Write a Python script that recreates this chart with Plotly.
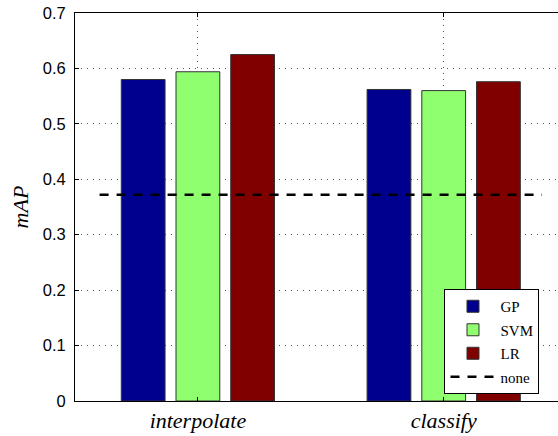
import plotly.graph_objects as go

categories = ["interpolate", "classify"]
cat_pos = [1, 2]
series_names = ["GP", "SVM", "LR"]
gp_values = [0.580, 0.562]
svm_values = [0.594, 0.560]
lr_values = [0.625, 0.576]
none_value = 0.372
none_x = [0.6, 2.4]
y_ticks = [0, 0.1, 0.2, 0.3, 0.4, 0.5, 0.6, 0.7]
y_ticklabels = ["0", "0.1", "0.2", "0.3", "0.4", "0.5", "0.6", "0.7"]

colors = ["#00008F", "#8FFF70", "#800000"]

fig = go.Figure()
for i, (name, vals) in enumerate(zip(series_names, [gp_values, svm_values, lr_values])):
    fig.add_trace(go.Bar(
        x=cat_pos, y=vals, name=name,
        marker=dict(color=colors[i], line=dict(color="#333333", width=1)),
        legendgroup=name,
    ))
fig.add_trace(go.Scatter(
    x=none_x, y=[none_value, none_value], mode="lines", name="none",
    line=dict(color="black", width=2.5, dash="9px,8px"),
    legendgroup="none",
))

serif = "Liberation Serif"
grid_color = "#555555"
grid_dash = "1px,5px"
fig.update_layout(
    width=558, height=436,
    margin=dict(l=75, r=0, t=13, b=35, autoexpand=False),
    paper_bgcolor="white", plot_bgcolor="white",
    barmode="group", bargap=0.332, bargroupgap=0.2,
    showlegend=True,
    legend=dict(
        x=0.765, y=0.018, xanchor="left", yanchor="bottom",
        bgcolor="white", bordercolor="black", borderwidth=1,
        font=dict(family=serif, size=15, color="black"),
        tracegroupgap=1, itemwidth=45,
    ),
    font=dict(family="Liberation Sans", color="black"),
)
fig.update_xaxes(
    automargin=False,
    range=[0.5, 2.465], tickvals=cat_pos, ticktext=categories,
    tickfont=dict(family=serif, size=22, style="italic", color="black"),
    showline=True, linecolor="black", linewidth=1, mirror="allticks",
    ticks="inside", ticklen=4, tickcolor="black",
    showgrid=True, gridcolor=grid_color, griddash=grid_dash, gridwidth=1,
    zeroline=False,
)
fig.update_yaxes(
    automargin=False,
    range=[0, 0.7], tickvals=y_ticks, ticktext=y_ticklabels,
    tickfont=dict(family="Liberation Sans", size=16.5, color="black"),
    showline=True, linecolor="black", linewidth=1,
    ticks="inside", ticklen=4, tickcolor="black", ticklabelstandoff=5,
    showgrid=True, gridcolor=grid_color, griddash=grid_dash, gridwidth=1,
    zeroline=False,
    title=dict(text="mAP", font=dict(family=serif, size=22, style="italic", color="black"), standoff=8),
)

# remove the browser's default 8px body margin so the figure fills the window
fig.write_html("out.html", config={"displayModeBar": False},
               post_script="document.body.style.margin='0px';")
